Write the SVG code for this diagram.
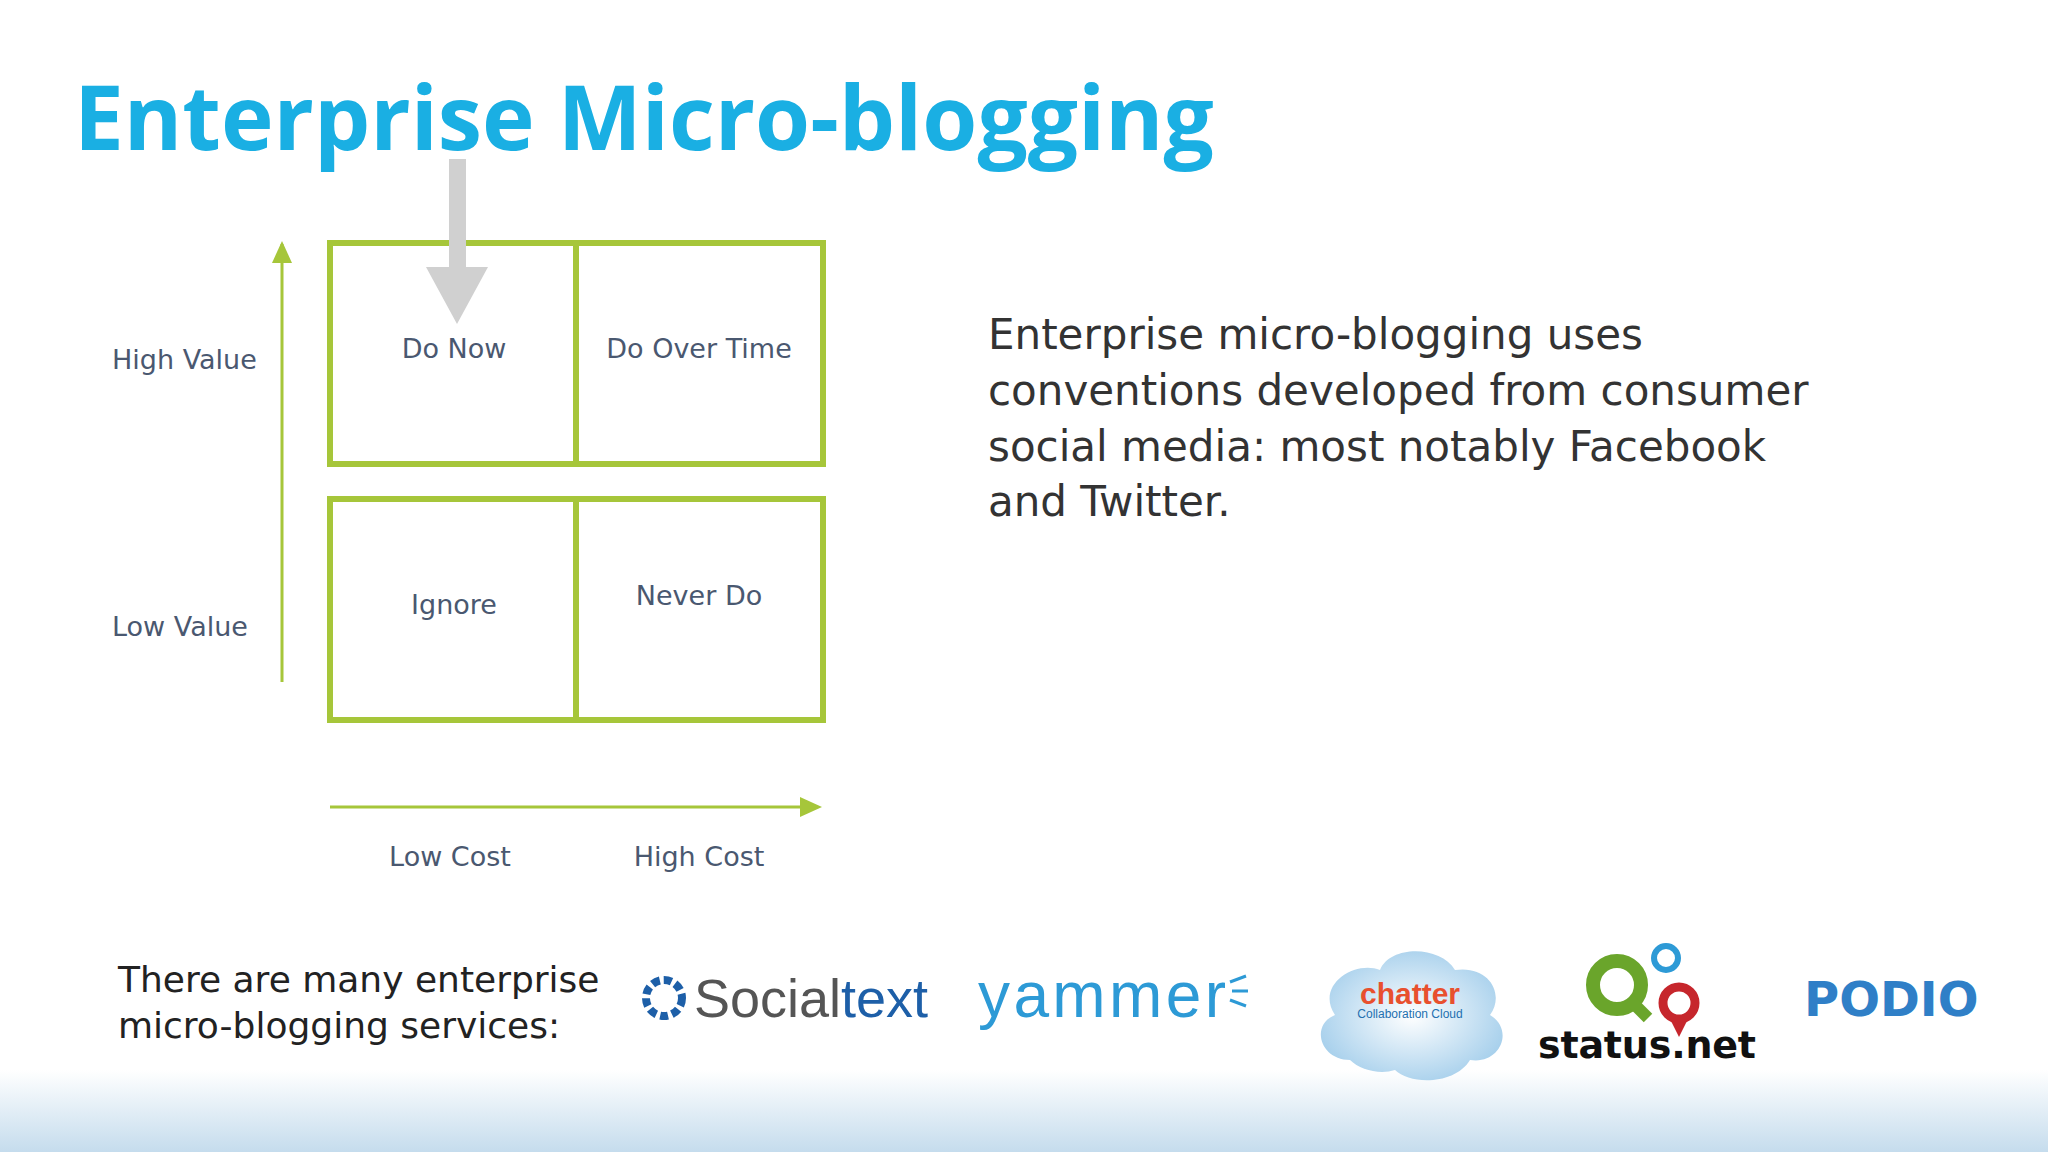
<svg xmlns="http://www.w3.org/2000/svg" width="2048" height="1152" viewBox="0 0 2048 1152">
<style>
.lbl{font-family:"DejaVu Sans",sans-serif;font-size:27px;fill:#4a5870}
.c{text-anchor:middle}
.box{fill:#fff;stroke:#a6c63a;stroke-width:6}
.para{font-family:"DejaVu Sans",sans-serif;font-size:42px;fill:#333}
.bt{font-family:"DejaVu Sans",sans-serif;font-size:36px;fill:#222}
</style>
<defs>
<linearGradient id="bg" x1="0" y1="0" x2="0" y2="1"><stop offset="0" stop-color="#fff"/><stop offset="1" stop-color="#c5dced"/></linearGradient>
<radialGradient id="cl" cx="0.5" cy="0.5" r="0.6"><stop offset="0" stop-color="#fff"/><stop offset="1" stop-color="#9ecbea"/></radialGradient>
</defs>
<rect width="2048" height="1152" fill="#fff"/>
<rect y="1070" width="2048" height="82" fill="url(#bg)"/>
<text x="74" y="150" font-family="'Open Sans','DejaVu Sans',sans-serif" font-weight="bold" font-size="89" fill="#1aafe3">Enterprise Micro-blogging</text>
<g id="quadrants">
<rect class="box" x="330" y="243" width="246" height="221"/>
<rect class="box" x="576" y="243" width="247" height="221"/>
<rect class="box" x="330" y="499" width="246" height="221"/>
<rect class="box" x="576" y="499" width="247" height="221"/>
<text class="lbl c" x="454" y="358">Do Now</text>
<text class="lbl c" x="699" y="358">Do Over Time</text>
<text class="lbl c" x="454" y="614">Ignore</text>
<text class="lbl c" x="699" y="605">Never Do</text>
</g>
<g id="connectors">
<line x1="282" y1="682" x2="282" y2="244" stroke="#a6c63a" stroke-width="3"/>
<path d="M272,263 L282,241 L292,263 Z" fill="#a6c63a"/>
<line x1="330" y1="807" x2="804" y2="807" stroke="#a6c63a" stroke-width="3"/>
<path d="M800,797 L822,807 L800,817 Z" fill="#a6c63a"/>
<path d="M449,159 L466,159 L466,267 L488,267 L457,324 L426,267 L449,267 Z" fill="#d0d0d0"/>
</g>
<g id="axes">
<text class="lbl" x="112" y="369">High Value</text>
<text class="lbl" x="112" y="636">Low Value</text>
<text class="lbl c" x="450" y="866">Low Cost</text>
<text class="lbl c" x="699" y="866">High Cost</text>
</g>
<g id="para">
<text class="para" x="988" y="349">Enterprise micro-blogging uses</text>
<text class="para" x="988" y="405">conventions developed from consumer</text>
<text class="para" x="988" y="461">social media: most notably Facebook</text>
<text class="para" x="988" y="516">and Twitter.</text>
</g>
<g id="services">
<text class="bt" x="118" y="992">There are many enterprise</text>
<text class="bt" x="118" y="1038">micro-blogging services:</text>
</g>
<g id="logos">
<circle cx="664" cy="998" r="18" fill="none" stroke="#1d5fa8" stroke-width="8" stroke-dasharray="8 4"/>
<text x="694" y="1017" font-family="'Liberation Sans',sans-serif" font-size="54" fill="#555">Social<tspan fill="#1d5fa8">text</tspan></text>
<text x="978" y="1017" font-family="'Liberation Sans',sans-serif" font-size="64" fill="#2d9ad6" textLength="248">yammer</text>
<path d="M1230,982 l16,-6 M1232,991 l16,0 M1230,1000 l16,6" stroke="#2d9ad6" stroke-width="3"/>
<path d="M1350,1060 c-30,0 -40,-35 -15,-45 c-20,-30 20,-55 45,-45 c10,-25 60,-25 75,0 c35,-5 50,25 35,45 c25,15 10,50 -20,45 c-15,25 -60,25 -75,10 c-15,5 -35,0 -45,-10 Z" fill="url(#cl)"/>
<text x="1410" y="1004" text-anchor="middle" font-family="'Liberation Sans',sans-serif" font-weight="bold" font-size="30" fill="#e8502e">chatter</text>
<text x="1410" y="1018" text-anchor="middle" font-family="'Liberation Sans',sans-serif" font-size="12" fill="#2370b0">Collaboration Cloud</text>
<circle cx="1617" cy="985" r="24" fill="none" stroke="#6aa52b" stroke-width="14"/>
<path d="M1630,1000 l18,18" stroke="#6aa52b" stroke-width="12"/>
<circle cx="1666" cy="958" r="12" fill="none" stroke="#2d9ad6" stroke-width="6"/>
<circle cx="1679" cy="1003" r="16" fill="none" stroke="#c6262c" stroke-width="9"/>
<path d="M1668,1015 l11,22 l11,-22 Z" fill="#c6262c"/>
<text x="1538" y="1058" font-family="'DejaVu Sans',sans-serif" font-weight="bold" font-size="38" fill="#111" textLength="218">status.net</text>
<text x="1804" y="1016" font-family="'DejaVu Sans',sans-serif" font-weight="bold" font-size="48" fill="#2f7fc7">PODIO</text>
</g>
</svg>
